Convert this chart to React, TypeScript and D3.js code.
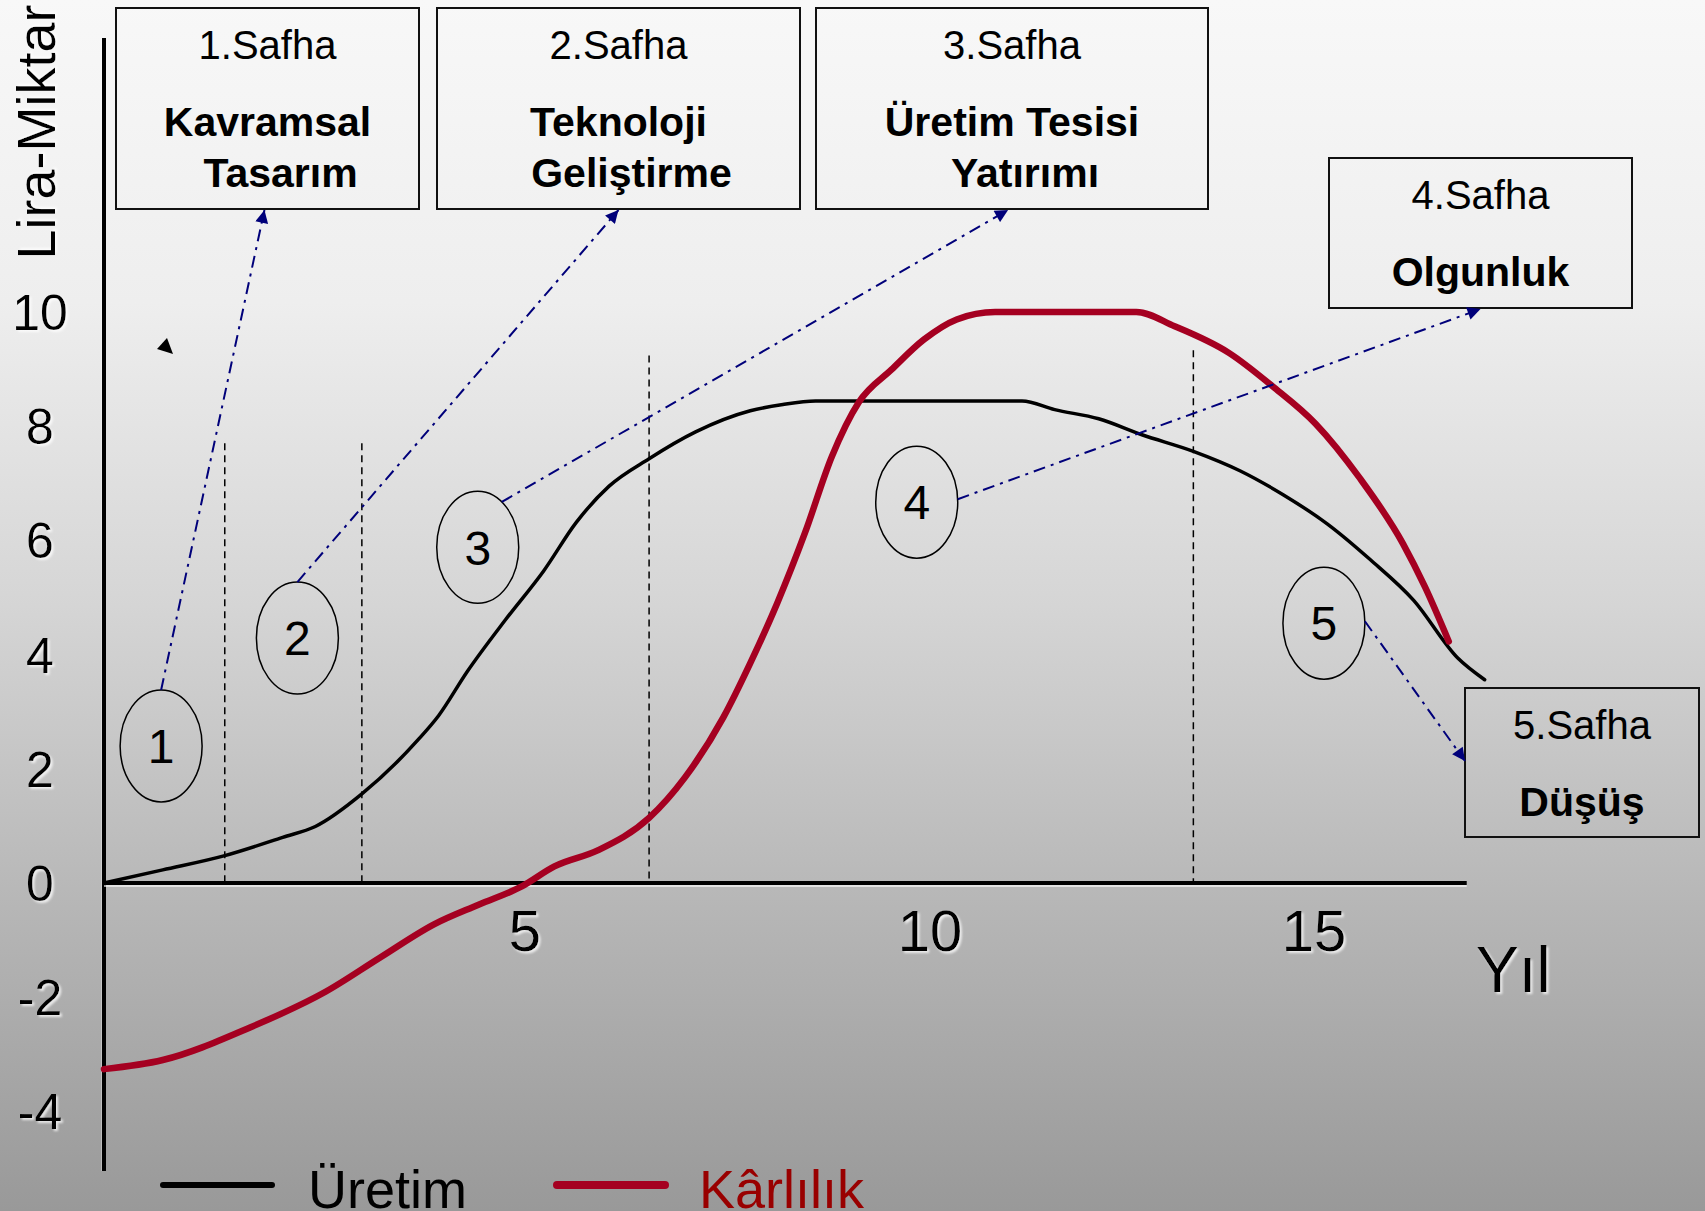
import React from "react";
import * as d3 from "d3";

const W = 1705;
const H = 1211;

// ---- data ----
const uretimYears = [0, 0.72, 1.48, 2.19, 2.59, 3.16, 3.85, 4.1, 4.45, 4.92, 5.39, 5.79, 6.19, 6.68, 7.25, 7.92, 8.32, 8.72, 11.25, 11.65, 12.19, 12.72, 13.35, 13.92, 14.45, 14.99, 15.52, 16.05, 16.59, 16.92];
const uretimValues = [0, 0.23, 0.48, 0.8, 0.99, 1.56, 2.51, 2.93, 3.7, 4.61, 5.47, 6.32, 6.95, 7.43, 7.9, 8.27, 8.38, 8.44, 8.44, 8.29, 8.13, 7.85, 7.56, 7.22, 6.8, 6.29, 5.66, 4.95, 3.94, 3.56];

const karlilikYears = [0, 0.72, 1.79, 2.72, 3.39, 4.05, 4.59, 5.12, 5.52, 6.05, 6.68, 7.12, 7.59, 7.92, 8.25, 8.59, 8.92, 9.25, 9.65, 10.05, 10.45, 10.92, 12.65, 13.12, 13.79, 14.32, 14.85, 15.39, 15.92, 16.19, 16.48];
const karlilikValues = [-3.26, -3.1, -2.53, -1.9, -1.3, -0.72, -0.38, -0.06, 0.29, 0.57, 1.14, 1.85, 2.9, 3.85, 4.9, 6.13, 7.47, 8.42, 8.99, 9.52, 9.87, 10.0, 10.0, 9.75, 9.28, 8.7, 8.04, 7.09, 5.94, 5.18, 4.23];

const yTicks = [10, 8, 6, 4, 2, 0, -2, -4];
const xTicks = [5, 10, 15];

const dividerYears = [1.48, 3.16, 6.68, 13.35];
const dividerTops = [7.7, 7.7, 9.24, 9.33];

const markerLabels = ["1", "2", "3", "4", "5"];
const markerYears = [0.7, 2.37, 4.58, 9.96, 14.95];
const markerValues = [2.4, 4.29, 5.88, 6.67, 4.55];

const phaseNames = ["1.Safha", "2.Safha", "3.Safha", "4.Safha", "5.Safha"];
const phaseTitles = [
  ["Kavramsal", "Tasarım"],
  ["Teknoloji", "Geliştirme"],
  ["Üretim Tesisi", "Yatırımı"],
  ["Olgunluk"],
  ["Düşüş"],
];
const seriesNames = ["Üretim", "Kârlılık"];

// ---- layout (pixels) ----
const boxes = [
  { x: 116, y: 8, w: 303, h: 201 },
  { x: 437, y: 8, w: 363, h: 201 },
  { x: 816, y: 8, w: 392, h: 201 },
  { x: 1329, y: 158, w: 303, h: 150 },
  { x: 1465, y: 688, w: 234, h: 149 },
];
// start angle on ellipse (deg), end anchor on box
const arrows = [
  { start: -90, end: "bottom", fx: 0.49 },
  { start: -90, end: "bottom", fx: 0.5 },
  { start: -54, end: "bottom", fx: 0.49 },
  { start: -3, end: "bottom", fx: 0.5 },
  { start: -2, end: "left", fx: 0.49 },
];

const FONT = "'Liberation Sans', Arial, Helvetica, sans-serif";
const NAVY = "#00007a";
const RED = "#a50021";

export default function App() {
  const x = d3.scaleLinear().domain([0, 17]).range([104, 104 + 17 * 81.6]);
  const y = d3.scaleLinear().domain([0, 10]).range([883, 312]);

  const uretim = uretimYears.map((t, i) => [t, uretimValues[i]] as [number, number]);
  const karlilik = karlilikYears.map((t, i) => [t, karlilikValues[i]] as [number, number]);
  const line = d3
    .line<[number, number]>()
    .x((d) => x(d[0]))
    .y((d) => y(d[1]))
    .curve(d3.curveMonotoneX);

  const rx = 41;
  const ry = 56;

  return (
    <svg
      width={W}
      height={H}
      viewBox={`0 0 ${W} ${H}`}
      style={{ position: "absolute", left: 0, top: 0, display: "block" }}
      fontFamily={FONT}
    >
      <defs>
        <linearGradient id="bg" x1="0" y1="0" x2="0" y2="1">
          <stop offset="0" stopColor="#f8f8f8" />
          <stop offset="0.25" stopColor="#eeeeee" />
          <stop offset="0.5" stopColor="#d5d5d5" />
          <stop offset="0.75" stopColor="#b6b6b6" />
          <stop offset="1" stopColor="#999999" />
        </linearGradient>
        <filter id="shadow" x="-20%" y="-20%" width="140%" height="140%">
          <feDropShadow dx="2" dy="2" stdDeviation="1.2" floodColor="#ffffff" floodOpacity="0.75" />
        </filter>
        <marker
          id="arrowHead"
          viewBox="0 0 10 10"
          refX="10"
          refY="5"
          markerWidth="16"
          markerHeight="13"
          markerUnits="userSpaceOnUse"
          orient="auto"
        >
          <path d="M0,0 L10,5 L0,10 z" fill={NAVY} />
        </marker>
      </defs>

      <rect x={0} y={0} width={W} height={H} fill="url(#bg)" />

      {/* axes */}
      <line x1={102} y1={38} x2={102} y2={1171} stroke="#ffffff" strokeWidth={1} opacity={0.6} />
      <line x1={104} y1={38} x2={104} y2={1171} stroke="#000" strokeWidth={4} />
      <line x1={104} y1={886} x2={x(16.7)} y2={886} stroke="#ffffff" strokeWidth={1.5} opacity={0.8} />
      <line x1={104} y1={883} x2={x(16.7)} y2={883} stroke="#000" strokeWidth={4} />

      {/* y tick labels */}
      {yTicks.map((v) => (
        <text
          key={"yt" + v}
          x={40}
          y={y(v)}
          dy="0.36em"
          textAnchor="middle"
          fontSize={50}
          fill="#000"
          filter="url(#shadow)"
        >
          {v}
        </text>
      ))}
      {/* x tick labels */}
      {xTicks.map((v) => (
        <text
          key={"xt" + v}
          x={x(v) + (v === 5 ? 13 : v === 10 ? 10 : -14)}
          y={951}
          textAnchor="middle"
          fontSize={58}
          fill="#000"
          filter="url(#shadow)"
        >
          {v}
        </text>
      ))}

      {/* axis titles */}
      <text
        transform="translate(55,132) rotate(-90)"
        textAnchor="middle"
        fontSize={54}
        fill="#000"
        filter="url(#shadow)"
      >
        Lira-Miktar
      </text>
      <text x={1476} y={992} fontSize={64} fill="#000" filter="url(#shadow)">
        Yıl
      </text>

      {/* phase dividers */}
      {dividerYears.map((t, i) => (
        <line
          key={"dv" + i}
          x1={x(t)}
          x2={x(t)}
          y1={y(dividerTops[i])}
          y2={y(0)}
          stroke="#000"
          strokeWidth={1.5}
          strokeDasharray="7,5"
        />
      ))}

      {/* series */}
      <path d={line(uretim) || ""} fill="none" stroke="#000" strokeWidth={3.5} strokeLinejoin="round" strokeLinecap="round" />
      <path d={line(karlilik) || ""} fill="none" stroke={RED} strokeWidth={6.5} strokeLinejoin="round" strokeLinecap="round" />

      {/* phase boxes */}
      {boxes.map((b, i) => {
        const cx = b.x + b.w / 2;
        return (
          <g key={"box" + i}>
            <rect x={b.x} y={b.y} width={b.w} height={b.h} fill="none" stroke="#111" strokeWidth={2} />
            <text x={cx} y={b.y + 51} textAnchor="middle" fontSize={40} fill="#000">
              {phaseNames[i]}
            </text>
            {phaseTitles[i].map((t, j) => (
              <text
                key={j}
                x={cx + (j === 1 ? 13 : 0)}
                y={b.y + (phaseTitles[i].length === 1 ? 128 : 128 + j * 51) }
                textAnchor="middle"
                fontSize={41}
                fontWeight="bold"
                fill="#000"
              >
                {t}
              </text>
            ))}
          </g>
        );
      })}

      {/* phase markers */}
      {markerLabels.map((m, i) => (
        <g key={"mk" + i}>
          <ellipse cx={x(markerYears[i])} cy={y(markerValues[i])} rx={rx} ry={ry} fill="none" stroke="#000" strokeWidth={1.5} />
          <text
            x={x(markerYears[i])}
            y={y(markerValues[i])}
            dy="0.36em"
            textAnchor="middle"
            fontSize={48}
            fill="#000"
          >
            {m}
          </text>
        </g>
      ))}

      {/* arrows */}
      {arrows.map((a, i) => {
        const cx = x(markerYears[i]);
        const cy = y(markerValues[i]);
        const ang = (a.start * Math.PI) / 180;
        const sx = cx + rx * Math.cos(ang);
        const sy = cy + ry * Math.sin(ang);
        const b = boxes[i];
        const ex = a.end === "left" ? b.x : b.x + b.w * a.fx;
        const ey = a.end === "left" ? b.y + b.h * a.fx : b.y + b.h + 1;
        return (
          <line
            key={"ar" + i}
            x1={sx}
            y1={sy}
            x2={ex}
            y2={ey}
            stroke={NAVY}
            strokeWidth={2}
            strokeDasharray="12,6,3,6"
            markerEnd="url(#arrowHead)"
          />
        );
      })}

      {/* stray arrowhead */}
      <path d="M167,338 L157,349 L173,354 Z" fill="#000" />

      {/* legend */}
      <line x1={163} y1={1185} x2={272} y2={1185} stroke="#000" strokeWidth={6} strokeLinecap="round" />
      <text x={308} y={1208} fontSize={54} fill="#000">
        {seriesNames[0]}
      </text>
      <line x1={557} y1={1185} x2={665} y2={1185} stroke={RED} strokeWidth={8} strokeLinecap="round" />
      <text x={699} y={1208} fontSize={54} fill="#990000">
        {seriesNames[1]}
      </text>
    </svg>
  );
}
